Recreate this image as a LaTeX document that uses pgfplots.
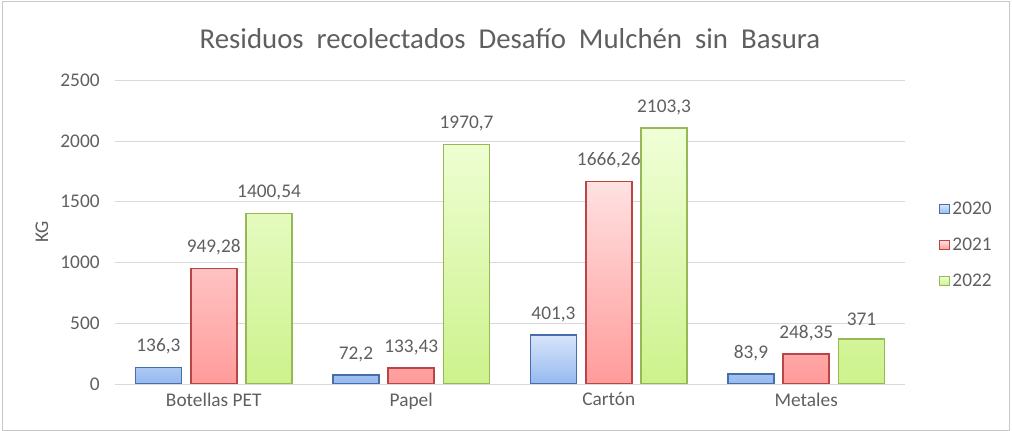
\documentclass[border=0pt]{standalone}
\usepackage{fontspec}
\setmainfont{Carlito}
\usepackage{pgfplots}
\pgfplotsset{compat=1.18}
\definecolor{txt}{RGB}{95,95,95}
\definecolor{gridc}{RGB}{217,217,217}
\definecolor{bdr}{RGB}{200,200,200}
\definecolor{blueln}{RGB}{70,110,170}
\definecolor{bluetop}{RGB}{215,228,250}
\definecolor{bluebot}{RGB}{150,185,240}
\definecolor{redln}{RGB}{185,70,70}
\definecolor{redtop}{RGB}{255,225,225}
\definecolor{redbot}{RGB}{255,155,155}
\definecolor{greenln}{RGB}{150,185,85}
\definecolor{greentop}{RGB}{240,255,215}
\definecolor{greenbot}{RGB}{205,242,140}

\begin{document}
\begin{tikzpicture}
  % whole chart is 1012x431 px, 1 px = 0.75pt
  \path[use as bounding box] (0,0) rectangle (759pt,323.25pt);
  \draw[bdr] (1.5pt,0.75pt) rectangle (756.75pt,322.5pt);
  \begin{axis}[
    at={(86.25pt,35.25pt)}, anchor=south west,
    scale only axis, width=592.5pt, height=228pt,
    ybar, bar width=0.233,
    xmin=-0.5, xmax=3.5,
    ymin=0, ymax=2500, ytick distance=500,
    xtick={0,1,2,3},
    xticklabels={Botellas PET,Papel,Cartón,Metales},
    major tick length=0pt,
    axis x line*=bottom, axis y line*=left,
    x axis line style={gridc},
    y axis line style={draw=none},
    ymajorgrids, grid style={gridc},
    font=\fontsize{14.5}{17}\selectfont,
    tick label style={txt, /pgf/number format/assume math mode=true, /pgf/number format/1000 sep={}},
    yticklabel style={xshift=-8pt},
    xticklabel style={yshift=-3pt},
    ylabel={KG},
    ylabel style={txt, at={(axis description cs:-0.0924,0.5)}, anchor=center},
    title={Residuos\ \ recolectados\ \ Desafío\ \ Mulchén\ \ sin\ \ Basura},
    title style={txt, font=\fontsize{21.6}{25}\selectfont, at={(axis description cs:0.5,1)}, anchor=center, yshift=25pt},
    nodes near coords={\pgfmathprintnumber[fixed, precision=2, use comma, 1000 sep={}, assume math mode=true]{\pgfplotspointmeta}},
    nodes near coords style={txt, font=\fontsize{14.5}{17}\selectfont, anchor=south, yshift=6pt},
    legend style={draw=none, fill=none, at={(1.038,0.457)}, anchor=west,
      font=\fontsize{14.5}{17}\selectfont, text=txt, row sep=12pt,
      nodes={inner xsep=2pt}},
    legend image code/.code={\draw[#1, line width=0.9pt] (0pt,-3.5pt) rectangle (7pt,3.5pt);},
  ]
    \addplot[bar shift=-0.28, draw=blueln, line width=1.2pt, top color=bluetop, bottom color=bluebot]
      coordinates {(0,136.3) (1,72.2) (2,401.3) (3,83.9)};
    \addplot[bar shift=0, draw=redln, line width=1.2pt, top color=redtop, bottom color=redbot]
      coordinates {(0,949.28) (1,133.43) (2,1666.26) (3,248.35)};
    \addplot[bar shift=0.28, draw=greenln, line width=1.2pt, top color=greentop, bottom color=greenbot]
      coordinates {(0,1400.54) (1,1970.7) (2,2103.3) (3,371)};
    \legend{2020,2021,2022}
  \end{axis}
\end{tikzpicture}
\end{document}
